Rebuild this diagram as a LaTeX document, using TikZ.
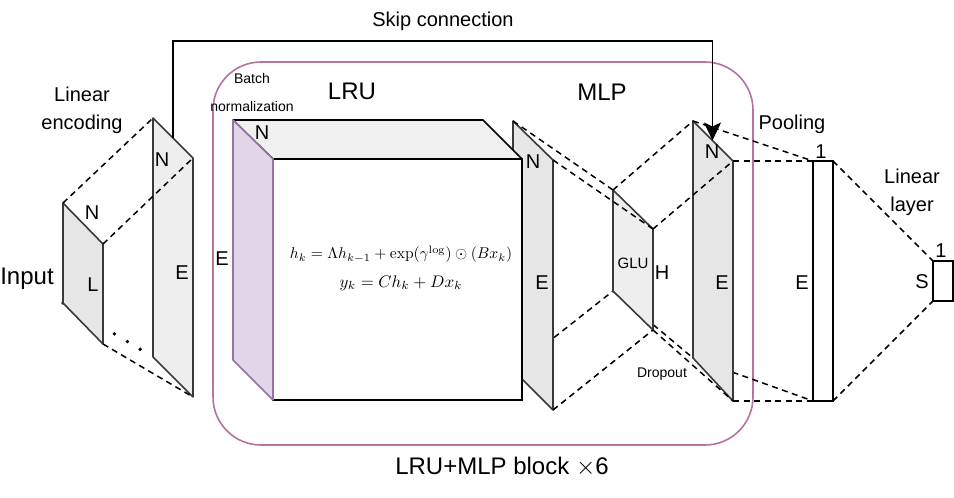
\documentclass[tikz,border=0pt]{standalone}
\usepackage[no-math]{fontspec}
\setmainfont{Liberation Sans}
\usetikzlibrary{arrows.meta}
\definecolor{blockc}{HTML}{B5739D}
\definecolor{planestroke}{HTML}{36393D}
\definecolor{planeA}{HTML}{E6E6E6}
\definecolor{planeB}{HTML}{EEEEEE}
\definecolor{topface}{HTML}{F0F0F0}
\definecolor{bnfill}{HTML}{E1D5E7}
\definecolor{bnstroke}{HTML}{9673A6}
\tikzset{
  planeD/.style={draw=planestroke, fill=planeA, line width=1.6pt, line join=round},
  planeL/.style={draw=planestroke, fill=planeB, line width=1.6pt, line join=round},
  dsh/.style={draw=black, line width=1.5pt, dash pattern=on 6pt off 4.5pt},
  dots/.style={draw=black, line width=3.8pt, line cap=round, dash pattern=on 0pt off 15pt},
  lbl/.style={inner sep=0pt, font=\fontsize{20}{24}\selectfont},
  big/.style={inner sep=0pt, font=\fontsize{24}{28}\selectfont},
  small/.style={inner sep=0pt, font=\fontsize{14}{17}\selectfont},
  two/.style={inner sep=0pt, align=center, font=\fontsize{20}{28}\selectfont},
}
\begin{document}
\begin{tikzpicture}[x=1pt, y=-1pt]
\useasboundingbox (0,0) rectangle (954,498);
% corner coordinates
\coordinate (inTL) at (63,203); \coordinate (inTR) at (103,244);
\coordinate (inBL) at (63,303); \coordinate (inBR) at (103,344);
\coordinate (enTL) at (153,118); \coordinate (enTR) at (193,158);
\coordinate (enBL) at (153,357); \coordinate (enBR) at (193,397);
\coordinate (bnTL) at (233,120); \coordinate (bnTR) at (273,159);
\coordinate (bnBL) at (233,360); \coordinate (bnBR) at (273,400);
\coordinate (cuBR) at (483,120); \coordinate (cuFR) at (522,159);
\coordinate (cuFB) at (522,400);
\coordinate (lrTL) at (513,121); \coordinate (lrTR) at (553,160);
\coordinate (lrBL) at (513,370); \coordinate (lrBR) at (553,410);
\coordinate (glTL) at (613,190); \coordinate (glTR) at (653,229);
\coordinate (glBL) at (613,291); \coordinate (glBR) at (653,330);
\coordinate (drTL) at (693,121); \coordinate (drTR) at (733,161);
\coordinate (drBL) at (693,358); \coordinate (drBR) at (733,401);
\coordinate (poTL) at (813,161); \coordinate (poTR) at (833,161);
\coordinate (poBL) at (813,401); \coordinate (poBR) at (833,401);
\coordinate (sTL) at (933,261); \coordinate (sTR) at (953,261);
\coordinate (sBL) at (933,301); \coordinate (sBR) at (953,301);
\coordinate (skipS) at (173,138); \coordinate (skipTop) at (173,41);
\coordinate (skipE) at (712.5,140.5);

% LRU+MLP block frame
\draw[draw=blockc, line width=1.6pt, rounded corners=48pt] (213,62) rectangle (753,445);

% hidden connectors (drawn behind planes)
\draw[dots] (inBL) -- (enBL);
\draw[dsh] (lrBL) -- (glBL);
\draw[dsh] (glBL) -- (drBL);
\draw[dsh] (drBL) -- (poBL);

% planes
\draw[planeD] (inTL) -- (inTR) -- (inBR) -- (inBL) -- cycle;
\draw[planeL] (enTL) -- (enTR) -- (enBR) -- (enBL) -- cycle;
\draw[planeD] (lrTL) -- (lrTR) -- (lrBR) -- (lrBL) -- cycle;
\draw[fill=topface, draw=black, line width=1.6pt, line join=round] (bnTL) -- (cuBR) -- (cuFR) -- (bnTR) -- cycle;
\draw[fill=white, draw=black, line width=1.6pt] (bnTR) rectangle (cuFB);
\draw[fill=bnfill, draw=bnstroke, line width=1.6pt, line join=round] (bnTL) -- (bnTR) -- (bnBR) -- (bnBL) -- cycle;
\draw[planeL] (glTL) -- (glTR) -- (glBR) -- (glBL) -- cycle;
\draw[planeD] (drTL) -- (drTR) -- (drBR) -- (drBL) -- cycle;
\draw[fill=white, draw=black, line width=1.6pt] (poTL) rectangle (poBR);
\draw[fill=white, draw=black, line width=1.6pt] (sTL) rectangle (sBR);

% skip connection
\draw[line width=1.6pt, -{Stealth[length=18pt, width=17pt, inset=4pt]}] (skipS) -- (skipTop) -| (skipE);

% visible connectors
\draw[dsh] (inTL) -- (enTL);
\draw[dsh] (inTR) -- (enTR);
\draw[dsh] (inBR) -- (enBR);
\draw[dsh] (lrTL) -- (glTL);
\draw[dsh] (lrTR) -- (glTR);
\draw[dsh] (lrBR) -- (glBR);
\draw[dsh] (glTL) -- (drTL);
\draw[dsh] (glTR) -- (drTR);
\draw[dsh] (glBR) -- (drBR);
\draw[dsh] (drTL) -- (poTL);
\draw[dsh] (drTR) -- (poTL);
\draw[dsh] (drBR) -- (poBL);
\draw[dsh] (poTR) -- (sTL);
\draw[dsh] (poBR) -- (sBL);

% texts
\node[lbl] (skiplbl) at (443,21) {Skip connection};
\node[two] (linenc) at (82,110) {Linear\\encoding};
\node[big] (input) at (27,279) {Input};
\node[lbl] (inN) at (92,213) {N};
\node[lbl] (inL) at (93,285) {L};
\node[lbl] (enN) at (162,160) {N};
\node[lbl] (enE) at (182,273) {E};
\node[small, align=center, font=\fontsize{14}{28}\selectfont] (bnlbl) at (252,92) {Batch\\normalization};
\node[big] (lrulbl) at (352,91) {LRU};
\node[big] (mlplbl) at (602,92) {MLP};
\node[lbl] (bnN) at (262,133) {N};
\node[lbl] (bnE) at (222,259) {E};
\node[inner sep=0pt, anchor=center] (formula1) at (401,254)
  {\scalebox{1.56}{$h_k = \Lambda h_{k-1} + \exp(\gamma^{\log}) \odot (Bx_k)$}};
\node[inner sep=0pt, anchor=center] (formula2) at (401,283)
  {\scalebox{1.68}{$y_k = Ch_k + Dx_k$}};
\node[lbl] (lrN) at (533,162) {N};
\node[lbl] (lrE) at (542,283) {E};
\node[inner sep=0pt, font=\fontsize{15}{18}\selectfont] (glulbl) at (633,263) {GLU};
\node[lbl] (glH) at (662,273) {H};
\node[small] (droplbl) at (662,374) {Dropout};
\node[lbl] (drN) at (712,152) {N};
\node[lbl] (drE) at (722,283) {E};
\node[lbl] (poollbl) at (792,124) {Pooling};
\node[lbl] (po1) at (821,152) {1};
\node[lbl] (poE) at (802,283) {E};
\node[two] (linlay) at (912,192) {Linear\\layer};
\node[lbl] (s1) at (941,251) {1};
\node[lbl] (sS) at (922,282) {S};
\node[big] (blocklbl) at (502,467) {LRU+MLP block $\times$6};
\end{tikzpicture}
\end{document}
